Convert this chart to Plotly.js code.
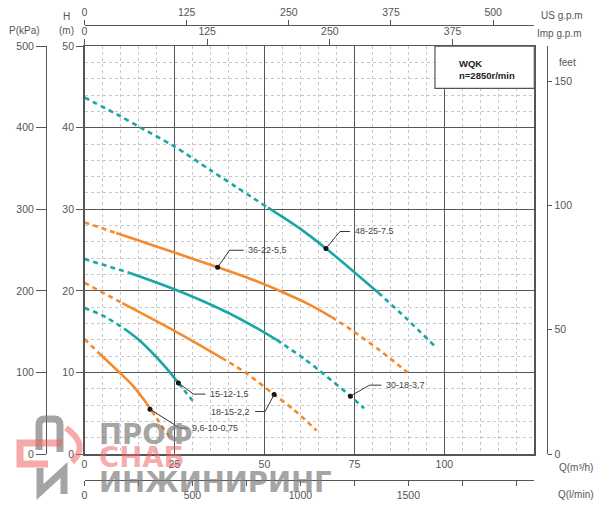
<!DOCTYPE html>
<html>
<head>
<meta charset="utf-8">
<script src="https://cdn.plot.ly/plotly-3.0.1.min.js"></script>
<style>html,body{margin:0;padding:0;background:#fff;}#chart{width:600px;height:509px;}</style>
</head>
<body>
<div id="chart"></div>
<script>
// ---------------- DATA (Q in m3/h, H in m) ----------------
// 48-25-7.5 (teal)
const p48_dashA_q = [0, 10, 15.2, 25, 35, 51];
const p48_dashA_h = [43.7, 41.4, 40.1, 37.7, 34.8, 30.2];
const p48_solid_q = [51, 60, 67.1, 75, 81.6];
const p48_solid_h = [30.2, 27.6, 25.2, 22.3, 19.8];
const p48_dashB_q = [81.6, 89.5, 97.4];
const p48_dashB_h = [19.8, 16.6, 13.2];
// 36-22-5,5 (orange)
const p36_dashA_q = [0, 8.8];
const p36_dashA_h = [28.4, 27.1];
const p36_solid_q = [8.8, 13.6, 25, 37, 46, 54.8, 61.7, 68.7];
const p36_solid_h = [27.1, 26.4, 24.7, 22.9, 21.5, 19.9, 18.5, 16.8];
const p36_dashB_q = [68.7, 74.2, 82.1, 89.8];
const p36_dashB_h = [16.8, 15.2, 12.7, 10.0];
// 30-18-3,7 (teal)
const p30_dashA_q = [0, 12.6];
const p30_dashA_h = [23.9, 22.2];
const p30_solid_q = [12.6, 25, 38.6, 46, 53.4];
const p30_solid_h = [22.2, 20.2, 17.6, 15.9, 14.0];
const p30_dashB_q = [53.4, 61.3, 65.4, 73.9, 77.7];
const p30_dashB_h = [14.0, 11.6, 10.2, 7.1, 5.6];
// 18-15-2,2 (orange)
const p18_dashA_q = [0, 10.5];
const p18_dashA_h = [21.0, 18.5];
const p18_solid_q = [10.5, 25, 38.1];
const p18_solid_h = [18.5, 15.1, 11.8];
const p18_dashB_q = [38.1, 45, 52.7, 58, 64.5];
const p18_dashB_h = [11.8, 9.9, 7.3, 5.5, 2.9];
// 15-12-1,5 (teal)
const p15_dashA_q = [0, 5, 11];
const p15_dashA_h = [17.9, 17.0, 15.4];
const p15_solid_q = [11, 15.4, 19.1, 22.8, 26.1];
const p15_solid_h = [15.4, 13.9, 12.3, 10.5, 8.7];
const p15_dashB_q = [26.1, 28.5, 30.7];
const p15_dashB_h = [8.7, 7.4, 6.2];
// 9,6-10-0,75 (orange)
const p9_dashA_q = [0, 4.2];
const p9_dashA_h = [14.1, 12.3];
const p9_solid_q = [4.2, 9, 13.6, 17.3];
const p9_solid_h = [12.3, 10.3, 8.3, 6.2];
const p9_dashB_q = [17.3, 20.5, 23.6];
const p9_dashB_h = [6.2, 4.1, 2.1];

// labelled duty points
const labelText = ["48-25-7.5", "36-22-5,5", "30-18-3,7", "18-15-2,2", "15-12-1,5", "9,6-10-0,75"];
const labelQ = [67.1, 37.0, 73.9, 52.7, 26.1, 18.2];
const labelH = [25.2, 22.9, 7.1, 7.3, 8.7, 5.5];

// axis ticks
const qTicks = [0, 25, 50, 75, 100];
const hTicks = [0, 10, 20, 30, 40, 50];
const kpaTicks = [0, 100, 200, 300, 400, 500];
const feetTicks = [0, 50, 100, 150];
const usTicks = [0, 125, 250, 375, 500];
const impTicks = [0, 125, 250, 375];
const lminTicks = [0, 250, 500, 750, 1000, 1250, 1500, 1750, 2000];
const lminText = ["0", "", "500", "", "1000", "", "1500", "", ""];

// ---------------- STYLE / LAYOUT ----------------
const Q_MAX = 125, H_MAX = 50;
const TEAL = '#1aa7a4', ORANGE = '#f58a2d';
const GRID = '#555', FONT = 'Liberation Sans, Arial, sans-serif';
const xDom = [0.13475, 0.89712], yDom = [0.1, 0.9176];
const PXQ = 3.598, PXH = 8.16; // px per unit (for leader offsets)
const px = x => (x - 5) / 590, py = y => (504 - y) / 499;

function seg(q, h, color, dashed) {
  return {type: 'scatter', mode: 'lines', x: q, y: h, hoverinfo: 'skip', showlegend: false,
    line: {color: color, width: 2.6, dash: dashed ? '5px,4px' : 'solid', shape: 'spline', smoothing: 0.8}};
}
const pumps = [
  [p48_dashA_q, p48_dashA_h, p48_solid_q, p48_solid_h, p48_dashB_q, p48_dashB_h, TEAL],
  [p36_dashA_q, p36_dashA_h, p36_solid_q, p36_solid_h, p36_dashB_q, p36_dashB_h, ORANGE],
  [p30_dashA_q, p30_dashA_h, p30_solid_q, p30_solid_h, p30_dashB_q, p30_dashB_h, TEAL],
  [p18_dashA_q, p18_dashA_h, p18_solid_q, p18_solid_h, p18_dashB_q, p18_dashB_h, ORANGE],
  [p15_dashA_q, p15_dashA_h, p15_solid_q, p15_solid_h, p15_dashB_q, p15_dashB_h, TEAL],
  [p9_dashA_q, p9_dashA_h, p9_solid_q, p9_solid_h, p9_dashB_q, p9_dashB_h, ORANGE]
];
const data = [];
pumps.forEach(p => {
  data.push(seg(p[0], p[1], p[6], true));
  data.push(seg(p[2], p[3], p[6], false));
  data.push(seg(p[4], p[5], p[6], true));
});
data.push({type: 'scatter', mode: 'markers', x: labelQ, y: labelH, hoverinfo: 'skip', showlegend: false,
  marker: {size: 5, color: '#111'}});
// dummy traces to register secondary axes
[['x2', 'y'], ['x3', 'y'], ['x4', 'y'], ['x', 'y2'], ['x', 'y3']].forEach(a => {
  data.push({type: 'scatter', mode: 'markers', x: [0], y: [0], xaxis: a[0], yaxis: a[1],
    marker: {opacity: 0}, hoverinfo: 'skip', showlegend: false});
});

// leader geometry in px: [kneeDx, kneeDy, endDx, textDx, anchor]
const leader = [
  [14, -17, 24, 27, 'left'],
  [12, -17, 26, 28, 'left'],
  [19, -11, 31, 34, 'left'],
  [-9, 17, -19, -22, 'right'],
  [15, 11, 27, 30, 'left'],
  [30, 19, 38, 40, 'left']
];
const shapes = [];
const annotations = [];
labelText.forEach((t, i) => {
  const L = leader[i], q = labelQ[i], h = labelH[i];
  const kx = q + L[0] / PXQ, ky = h - L[1] / PXH, ex = q + L[2] / PXQ;
  shapes.push({type: 'path', xref: 'x', yref: 'y', path: `M ${q},${h} L ${kx},${ky} L ${ex},${ky}`,
    line: {color: '#333', width: 1}});
  annotations.push({x: q, y: h, xref: 'x', yref: 'y', text: t, showarrow: false,
    xanchor: L[4], yanchor: 'middle', xshift: L[3], yshift: -L[1],
    font: {family: FONT, size: 9, color: '#444'}});
});
// info box
shapes.push({type: 'rect', xref: 'x', yref: 'y', x0: 97.4, x1: Q_MAX, y0: 44.83, y1: H_MAX,
  fillcolor: '#fff', line: {color: GRID, width: 1.2}, layer: 'above'});
annotations.push({xref: 'paper', yref: 'paper', x: px(457), y: py(63), xanchor: 'left', yanchor: 'middle',
  text: '<b>WQK</b>', showarrow: false, font: {family: FONT, size: 9.5, color: '#222'}});
annotations.push({xref: 'paper', yref: 'paper', x: px(457), y: py(75), xanchor: 'left', yanchor: 'middle',
  text: '<b>n=2850r/min</b>', showarrow: false, font: {family: FONT, size: 9.5, color: '#222'}});

// axis titles
const titles = [
  ['P(kPa)', 24, 30, 'center'], ['H', 66, 16, 'center'], ['(m)', 66, 30, 'center'],
  ['US g.p.m', 539, 15, 'left'], ['Imp g.p.m', 535, 34, 'left'], ['feet', 557, 62, 'left'],
  ['Q(m³/h)', 557, 467, 'left'], ['Q(l/min)', 556, 494, 'left']
];
titles.forEach(t => annotations.push({xref: 'paper', yref: 'paper', x: px(t[1]), y: py(t[2]),
  xanchor: t[3], yanchor: 'middle', text: t[0], showarrow: false,
  font: {family: FONT, size: 10, color: '#555'}}));

// watermark
const wmGray = 'rgba(125,125,125,0.7)', wmRed = 'rgba(236,100,100,0.55)';
[['ПРОФ', 434, wmGray], ['СНАБ', 457, wmRed], ['ИНЖИНИРИНГ', 482, wmGray]].forEach(w => {
  annotations.push({xref: 'paper', yref: 'paper', x: px(97), y: py(w[1]), xanchor: 'left', yanchor: 'middle',
    text: '<b>' + w[0] + '</b>', showarrow: false, font: {family: 'DejaVu Sans, sans-serif', size: 27.5, color: w[2]}});
});
const P = (x, y) => `${px(x)},${py(y)}`;
shapes.push({type: 'path', xref: 'paper', yref: 'paper', line: {color: wmGray, width: 7},
  path: `M ${P(39, 450)} L ${P(39, 425)} Q ${P(39, 419)} ${P(45, 419)} L ${P(54, 419)} Q ${P(60, 419)} ${P(60, 425)} L ${P(60, 452)}`});
shapes.push({type: 'path', xref: 'paper', yref: 'paper', line: {color: wmRed, width: 7},
  path: `M ${P(62, 443)} L ${P(20, 443)} L ${P(20, 464)} L ${P(48, 464)}`});
shapes.push({type: 'path', xref: 'paper', yref: 'paper', line: {color: wmRed, width: 6},
  path: `M ${P(66, 428)} Q ${P(90, 445)} ${P(72, 462)}`});
shapes.push({type: 'path', xref: 'paper', yref: 'paper', line: {color: wmGray, width: 7},
  path: `M ${P(40, 468)} L ${P(40, 492)} L ${P(64, 470)} L ${P(64, 494)}`});

const tickFont = {family: FONT, size: 10.5, color: '#555'};
const layout = {
  width: 600, height: 509, margin: {l: 5, r: 5, t: 5, b: 5},
  paper_bgcolor: '#fff', plot_bgcolor: '#fff', showlegend: false,
  xaxis: {domain: xDom, range: [0, Q_MAX], tickvals: qTicks, showgrid: true, gridcolor: GRID, gridwidth: 1,
    minor: {dtick: 5, showgrid: true, gridcolor: '#c8c8c8', griddash: 'dot', gridwidth: 1},
    showline: true, linecolor: GRID, linewidth: 1.4, mirror: true, zeroline: false,
    ticks: '', tickfont: tickFont, fixedrange: true},
  yaxis: {domain: yDom, range: [0, H_MAX], tickvals: hTicks, showgrid: true, gridcolor: GRID, gridwidth: 1,
    minor: {dtick: 2, showgrid: true, gridcolor: '#c8c8c8', griddash: 'dot', gridwidth: 1},
    showline: true, linecolor: GRID, linewidth: 1.4, mirror: true, zeroline: false,
    ticks: 'outside', ticklen: 7, tickcolor: GRID, tickfont: tickFont, fixedrange: true},
  xaxis2: {overlaying: 'x', anchor: 'free', position: 0.96, side: 'top', range: [0, Q_MAX * 4.40287],
    tickvals: usTicks, showgrid: false, zeroline: false, showline: true, linecolor: GRID, linewidth: 1.4,
    ticks: 'outside', ticklen: 5, tickcolor: GRID, tickfont: tickFont},
  xaxis3: {overlaying: 'x', anchor: 'y', side: 'top', range: [0, Q_MAX * 3.66615],
    tickvals: impTicks, showgrid: false, zeroline: false, showline: false,
    ticks: 'outside', ticklen: 6, tickcolor: GRID, tickfont: tickFont},
  xaxis4: {overlaying: 'x', anchor: 'free', position: 0.048, side: 'bottom', range: [0, Q_MAX * 16.6667],
    tickvals: lminTicks, ticktext: lminText, showgrid: false, zeroline: false, showline: true,
    linecolor: GRID, linewidth: 1.4, ticks: 'outside', ticklen: 5, tickcolor: GRID, tickfont: tickFont},
  yaxis2: {overlaying: 'y', anchor: 'free', position: 0.0695, side: 'left', range: [0, H_MAX * 10],
    tickvals: kpaTicks, showgrid: false, zeroline: false, showline: true, linecolor: GRID, linewidth: 1.4,
    ticks: 'outside', ticklen: 10, tickcolor: GRID, tickfont: tickFont},
  yaxis3: {overlaying: 'y', anchor: 'free', position: 0.9186, side: 'right', range: [0, H_MAX * 3.28084],
    tickvals: feetTicks, showgrid: false, zeroline: false, showline: true, linecolor: GRID, linewidth: 1.4,
    ticks: 'outside', ticklen: 4, tickcolor: GRID, tickfont: tickFont},
  shapes: shapes,
  annotations: annotations
};
Plotly.newPlot('chart', data, layout, {staticPlot: true, displayModeBar: false});
</script>
</body>
</html>
